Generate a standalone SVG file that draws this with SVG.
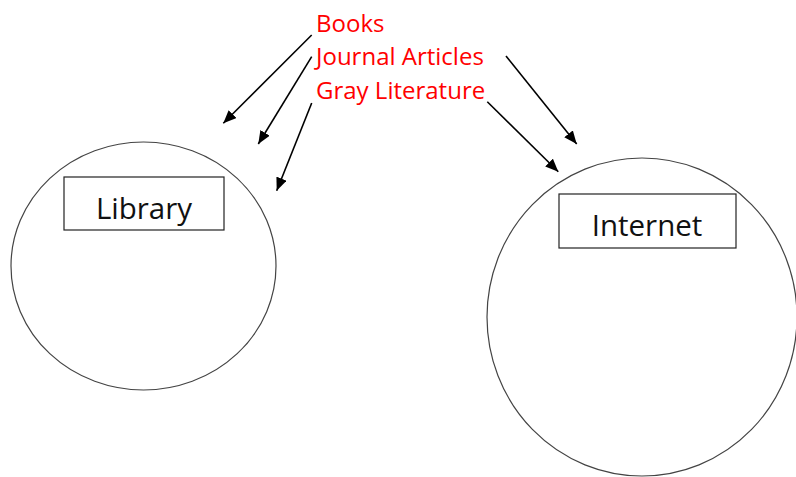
<svg xmlns="http://www.w3.org/2000/svg" width="796" height="477" viewBox="0 0 796 477">
<style>
.circ{fill:none;stroke:#444;stroke-width:1.2}
.box{fill:#fff;stroke:#222;stroke-width:1.2}
.lbl{font-family:"Open Sans","Noto Sans",sans-serif;fill:#111;font-size:29.5px}
.red{font-family:"Open Sans","Noto Sans",sans-serif;fill:#ff0000;font-size:24px}
.arr{stroke:#000;stroke-width:1.6;fill:none;marker-end:url(#ah)}
</style>
<defs>
<marker id="ah" markerUnits="userSpaceOnUse" markerWidth="13" markerHeight="11" refX="13" refY="5.5" orient="auto">
<path d="M0,0 L13,5.5 L0,11 z" fill="#000"/>
</marker>
</defs>
<rect width="796" height="477" fill="#fff"/>
<g id="library">
<ellipse class="circ" cx="143.5" cy="266" rx="132.5" ry="124"/>
<rect class="box" x="64" y="177" width="160" height="53"/>
<text class="lbl" x="144" y="219" text-anchor="middle">Library</text>
</g>
<g id="internet">
<ellipse class="circ" cx="642" cy="317" rx="155" ry="159"/>
<rect class="box" x="559" y="194" width="177" height="54"/>
<text class="lbl" x="647" y="236" text-anchor="middle">Internet</text>
</g>
<g id="sources">
<text class="red" x="316" y="32">Books</text>
<text class="red" x="316" y="65">Journal Articles</text>
<text class="red" x="316" y="99">Gray Literature</text>
</g>
<g id="connectors">
<line class="arr" x1="311.7" y1="35" x2="223.3" y2="123.3"/>
<line class="arr" x1="311.7" y1="56.7" x2="258.3" y2="144"/>
<line class="arr" x1="311.7" y1="103" x2="276.7" y2="190.7"/>
<line class="arr" x1="506" y1="56" x2="576.7" y2="144"/>
<line class="arr" x1="487.3" y1="101.7" x2="558.3" y2="171.7"/>
</g>
</svg>
